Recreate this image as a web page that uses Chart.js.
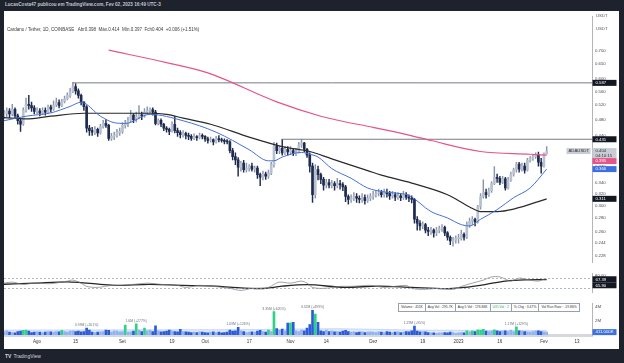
<!DOCTYPE html>
<html>
<head>
<meta charset="utf-8">
<title>ADAUSDT 1D</title>
<script src="https://cdn.jsdelivr.net/npm/chart.js@4.4.1/dist/chart.umd.min.js"></script>
<style>
  html, body { margin: 0; padding: 0; }
  body { width: 624px; height: 363px; background: #1e222d; position: relative; overflow: hidden;
         font-family: "Liberation Sans", Arial, sans-serif; }
  #panel { position: absolute; left: 4px; top: 11px; width: 615px; height: 338px; background: #fff; }
  .pane { position: absolute; left: 0; width: 615px; }
  #byline { position: absolute; left: 5px; top: 2px; font-size: 4.6px; font-weight: bold; color: #c3c6ce; }
  #legend { position: absolute; left: 3px; top: 15.5px; font-size: 4.5px; color: #3a3a3a; white-space: pre; }
  .usdt { position: absolute; left: 592px; font-size: 4.3px; color: #555; }
  #volinfo { position: absolute; left: 394px; top: 292px; display: flex; font-size: 3.4px; color: #333;
             border: 0.5px solid #9aa0ab; background: #fff; }
  #volinfo span { padding: 1.3px 2px; border-right: 0.5px solid #9aa0ab; white-space: nowrap; }
  #volinfo span:last-child { border-right: none; }
  #volinfo .up { color: #1aa866; }
  #brand { position: absolute; left: 5px; top: 353px; font-size: 5px; color: #d1d4dc; }
  #brand b { font-size: 5px; margin-right: 2px; }
</style>
</head>
<body>
<div id="byline">LucasCosta47 publicou em TradingView.com, Fev 02, 2023 16:49 UTC-3</div>
<div id="panel">
  <div class="pane" style="top:0;height:257px"><canvas id="priceChart"></canvas></div>
  <div class="pane" style="top:257px;height:30px"><canvas id="rsiChart"></canvas></div>
  <div class="pane" style="top:287px;height:51px"><canvas id="volChart"></canvas></div>
  <div id="legend"></div>
  <div class="usdt" style="top:2px">USDT</div>
  <div class="usdt" style="top:15px">USDT</div>
  <div id="volinfo">
    <span>Volume : 411K</span><span>Avg Vol : 295.7K</span><span>Avg 5 Vol : 176.86K</span>
    <span class="up">U/D Vol : 2</span><span>% Chg : 3.47%</span><span>Vol Run Rate : -19.86%</span>
  </div>
</div>
<div id="brand"><b>TV</b>TradingView</div>

<script>
// day index 0 = 20 Jul 2022, 197 = 02 Feb 2023 (daily candles, open = previous close)
const firstOpen = 0.492;

const closes = [
  // Jul 20-31
  0.497, 0.503, 0.495, 0.508, 0.490, 0.477, 0.468, 0.505, 0.522, 0.518, 0.512, 0.502,
  // Aug 1-18
  0.503, 0.497, 0.505, 0.500, 0.514, 0.508, 0.520, 0.527, 0.519, 0.530, 0.538, 0.548, 0.560, 0.575, 0.562, 0.548, 0.528, 0.515,
  // Aug 19-31
  0.458, 0.452, 0.448, 0.455, 0.446, 0.462, 0.470, 0.465, 0.433, 0.438, 0.440, 0.447, 0.450,
  // Sep
  0.465, 0.470, 0.478, 0.492, 0.480, 0.488, 0.493, 0.490, 0.500, 0.505, 0.507, 0.500, 0.470, 0.478, 0.468,
  0.458, 0.455, 0.450, 0.468, 0.452, 0.447, 0.442, 0.445, 0.440, 0.438, 0.433, 0.437, 0.435, 0.440, 0.438,
  // Oct
  0.432, 0.428, 0.430, 0.425, 0.432, 0.430, 0.428, 0.426, 0.425, 0.405, 0.392, 0.385, 0.370, 0.378, 0.365, 0.368,
  0.372, 0.366, 0.368, 0.355, 0.350, 0.356, 0.352, 0.358, 0.375, 0.415, 0.405, 0.410, 0.400, 0.408, 0.402,
  // Nov
  0.405, 0.398, 0.402, 0.418, 0.422, 0.408, 0.395, 0.372, 0.318, 0.365, 0.355, 0.346, 0.335, 0.340, 0.335,
  0.338, 0.334, 0.338, 0.336, 0.332, 0.315, 0.310, 0.312, 0.315, 0.312, 0.310, 0.313, 0.308, 0.312, 0.315,
  // Dec
  0.318, 0.320, 0.322, 0.318, 0.322, 0.320, 0.316, 0.318, 0.314, 0.316, 0.313, 0.318, 0.314, 0.312, 0.310, 0.278,
  0.272, 0.268, 0.270, 0.262, 0.260, 0.262, 0.258, 0.262, 0.264, 0.266, 0.258, 0.252, 0.247, 0.248, 0.250,
  // Jan 1 - Feb 2
  0.250, 0.256, 0.252, 0.270, 0.275, 0.278, 0.274, 0.298, 0.315, 0.322, 0.318, 0.325, 0.338, 0.350, 0.348, 0.340,
  0.347, 0.330, 0.345, 0.356, 0.365, 0.376, 0.366, 0.372, 0.364, 0.384, 0.388, 0.392, 0.396, 0.380, 0.372, 0.398, 0.404
];

const highs = [
  0.505, 0.512, 0.510, 0.522, 0.512, 0.495, 0.482, 0.512, 0.540, 0.548, 0.528, 0.518,
  0.512, 0.510, 0.512, 0.512, 0.520, 0.520, 0.532, 0.540, 0.535, 0.536, 0.546, 0.556, 0.570, 0.589, 0.585, 0.568, 0.552, 0.530,
  0.518, 0.465, 0.460, 0.462, 0.458, 0.468, 0.478, 0.480, 0.468, 0.445, 0.448, 0.455, 0.458,
  0.472, 0.478, 0.486, 0.505, 0.496, 0.500, 0.518, 0.500, 0.510, 0.515, 0.512, 0.512, 0.505, 0.482, 0.482,
  0.470, 0.462, 0.458, 0.474, 0.488, 0.458, 0.452, 0.452, 0.448, 0.446, 0.442, 0.444, 0.440, 0.446, 0.444,
  0.440, 0.436, 0.436, 0.432, 0.438, 0.440, 0.434, 0.432, 0.430, 0.428, 0.410, 0.400, 0.390, 0.382, 0.384, 0.378,
  0.375, 0.378, 0.372, 0.372, 0.358, 0.362, 0.360, 0.364, 0.380, 0.424, 0.422, 0.414, 0.431, 0.414, 0.414,
  0.414, 0.410, 0.410, 0.424, 0.431, 0.424, 0.410, 0.400, 0.378, 0.375, 0.372, 0.358, 0.350, 0.346, 0.346,
  0.344, 0.342, 0.348, 0.344, 0.340, 0.335, 0.318, 0.318, 0.322, 0.320, 0.316, 0.320, 0.318, 0.318, 0.320,
  0.324, 0.326, 0.328, 0.326, 0.328, 0.328, 0.324, 0.324, 0.322, 0.322, 0.320, 0.324, 0.322, 0.318, 0.316, 0.312,
  0.282, 0.276, 0.274, 0.272, 0.266, 0.266, 0.264, 0.266, 0.268, 0.270, 0.268, 0.260, 0.254, 0.252, 0.254,
  0.256, 0.262, 0.258, 0.274, 0.280, 0.282, 0.280, 0.300, 0.320, 0.345, 0.328, 0.330, 0.342, 0.371, 0.356, 0.352,
  0.352, 0.350, 0.350, 0.360, 0.368, 0.380, 0.380, 0.378, 0.378, 0.388, 0.392, 0.396, 0.400, 0.402, 0.388, 0.400, 0.414
];

const lows = [
  0.482, 0.488, 0.485, 0.490, 0.485, 0.468, 0.450, 0.465, 0.500, 0.508, 0.502, 0.495,
  0.495, 0.490, 0.494, 0.492, 0.498, 0.500, 0.505, 0.515, 0.512, 0.515, 0.526, 0.535, 0.542, 0.556, 0.552, 0.540, 0.520, 0.505,
  0.448, 0.440, 0.440, 0.442, 0.438, 0.443, 0.458, 0.460, 0.428, 0.428, 0.430, 0.436, 0.440,
  0.445, 0.458, 0.462, 0.474, 0.472, 0.474, 0.482, 0.480, 0.486, 0.495, 0.498, 0.492, 0.466, 0.466, 0.462,
  0.452, 0.448, 0.442, 0.448, 0.446, 0.438, 0.434, 0.436, 0.432, 0.430, 0.428, 0.430, 0.428, 0.432, 0.432,
  0.426, 0.422, 0.424, 0.418, 0.422, 0.425, 0.424, 0.420, 0.420, 0.400, 0.385, 0.375, 0.352, 0.362, 0.360, 0.360,
  0.362, 0.362, 0.360, 0.348, 0.334, 0.345, 0.346, 0.348, 0.355, 0.370, 0.398, 0.398, 0.395, 0.396, 0.395,
  0.396, 0.394, 0.394, 0.400, 0.412, 0.402, 0.390, 0.360, 0.305, 0.312, 0.345, 0.338, 0.326, 0.330, 0.330,
  0.330, 0.326, 0.330, 0.328, 0.325, 0.306, 0.302, 0.305, 0.308, 0.305, 0.304, 0.305, 0.302, 0.305, 0.308,
  0.310, 0.314, 0.316, 0.314, 0.314, 0.314, 0.310, 0.312, 0.308, 0.310, 0.308, 0.310, 0.310, 0.306, 0.304, 0.272,
  0.262, 0.262, 0.264, 0.258, 0.254, 0.256, 0.252, 0.254, 0.258, 0.260, 0.254, 0.248, 0.242, 0.240, 0.244,
  0.244, 0.248, 0.248, 0.250, 0.266, 0.270, 0.268, 0.272, 0.294, 0.312, 0.312, 0.315, 0.322, 0.336, 0.340, 0.336,
  0.338, 0.326, 0.328, 0.342, 0.352, 0.360, 0.360, 0.362, 0.358, 0.362, 0.380, 0.384, 0.388, 0.372, 0.358, 0.370, 0.397
];

// volume in millions of ADA
const volumes = [
  0.45, 0.6, 0.4, 0.35, 0.3, 0.5, 0.55, 0.65, 0.7, 0.55, 0.35, 0.4,
  0.45, 0.4, 0.35, 0.4, 0.5, 0.45, 0.4, 0.5, 0.45, 0.65, 0.5, 0.4, 0.55, 0.6, 0.5, 0.55, 0.45, 0.5,
  0.99, 0.7, 0.4, 0.35, 0.4, 0.45, 0.5, 0.7, 0.65, 0.4, 0.6, 0.55, 0.45,
  0.5, 1.4, 0.4, 0.45, 0.55, 1.6, 0.7, 0.5, 1.0, 0.6, 0.7, 0.5, 1.3, 0.6, 0.45,
  0.5, 0.55, 0.7, 0.6, 0.5, 0.45, 0.8, 0.5, 0.45, 0.4, 0.35, 0.4, 0.35, 0.45, 0.4,
  0.35, 0.3, 0.4, 0.45, 0.35, 0.4, 0.3, 0.35, 0.4, 0.7, 0.55, 0.6, 1.09, 0.6, 0.5, 0.35,
  0.4, 0.45, 0.4, 0.55, 0.65, 0.5, 0.4, 0.7, 0.5, 3.35, 0.9, 0.7, 0.85, 0.6, 1.7,
  1.75, 1.8, 0.6, 0.5, 0.7, 0.6, 1.0, 1.5, 3.52, 3.0, 1.8, 0.6, 0.5, 0.7, 0.5,
  0.6, 0.45, 0.5, 0.4, 0.55, 0.65, 0.5, 0.4, 0.45, 0.35, 0.4, 0.45, 0.35, 0.4, 0.45,
  0.4, 0.35, 0.45, 0.4, 0.35, 0.5, 0.4, 0.35, 0.4, 0.45, 0.35, 0.4, 0.5, 0.45, 0.6, 1.29,
  0.55, 0.45, 0.5, 0.45, 0.35, 0.3, 0.3, 0.25, 0.3, 0.3, 0.35, 0.3, 0.4, 0.35, 0.25,
  0.3, 0.35, 0.3, 0.6, 0.45, 0.55, 0.5, 0.75, 0.7, 0.8, 0.55, 0.5, 0.6, 0.75, 0.6, 0.5,
  0.55, 0.6, 0.5, 0.7, 0.5, 1.17, 0.6, 0.55, 0.5, 0.45, 0.4, 0.5, 0.55, 0.6, 0.5, 0.45, 0.411
];

// light volume-average band behind the bars (day index, millions)
const volAvgDays   = [0, 60, 100, 120, 150, 197];
const volAvgValues = [0.7, 0.75, 0.8, 0.9, 0.7, 0.65];

// moving averages (day index, price)
const ma200Days   = [38, 59, 74, 99, 115, 122, 134, 147, 155, 173, 191, 197];
const ma200Values = [0.702, 0.656, 0.620, 0.529, 0.489, 0.477, 0.460, 0.441, 0.428, 0.403, 0.397, 0.395];
const ma20Days    = [0, 8, 17, 24, 28, 35, 40, 44, 53, 65, 77, 89, 96, 98, 101, 108, 111, 114, 119, 126, 132, 138, 144, 147, 155, 161, 166, 169, 173, 179, 185, 191, 197];
const ma20Values  = [0.477, 0.489, 0.498, 0.516, 0.528, 0.489, 0.472, 0.470, 0.494, 0.477, 0.448, 0.407, 0.383, 0.383, 0.391, 0.401, 0.397, 0.391, 0.367, 0.348, 0.330, 0.323, 0.320, 0.317, 0.290, 0.280, 0.270, 0.268, 0.278, 0.293, 0.313, 0.330, 0.366];
const ma50Days    = [0, 8, 17, 29, 41, 53, 59, 65, 75, 89, 101, 111, 119, 132, 137, 148, 161, 169, 173, 179, 185, 197];
const ma50Values  = [0.485, 0.482, 0.489, 0.497, 0.497, 0.497, 0.494, 0.484, 0.468, 0.436, 0.414, 0.403, 0.387, 0.363, 0.354, 0.339, 0.318, 0.2975, 0.290, 0.290, 0.294, 0.311];

// horizontal levels drawn on the chart
const levelPrices = [0.587, 0.431];
const levelFromDays = [25, 101];

// RSI pane
const rsiDays   = [0, 3, 7, 11, 17, 23, 25, 28, 30, 34, 39, 42, 47, 52, 57, 63, 66, 71, 76, 82, 86, 90, 96, 98, 100, 104, 108, 110, 112, 116, 122, 126, 133, 138, 146, 148, 152, 158, 163, 166, 170, 174, 177, 180, 182, 184, 187, 191, 194, 196, 197];
const rsiValues = [52, 56, 47, 52, 50, 60, 64, 52, 39, 35, 43, 43, 47, 52, 47, 43, 35, 43, 39, 31, 23, 31, 35, 47, 56, 52, 60, 52, 35, 31, 39, 39, 43, 35, 43, 31, 27, 31, 27, 39, 52, 64, 77, 77, 68, 60, 72, 64, 60, 68, 67.39];
const rsiMaDays   = [0, 11, 23, 27, 35, 41, 53, 65, 77, 83, 93, 101, 110, 124, 136, 148, 160, 167, 175, 182, 189, 197];
const rsiMaValues = [47.5, 52, 57, 55, 47, 43, 47, 43, 40, 35, 30, 40, 46, 35, 40, 35, 30, 35, 47, 60, 65, 65.9];
const rsiBands = [70, 30];

// axis ticks
const priceTicks = [0.7, 0.65, 0.6, 0.56, 0.52, 0.48, 0.44, 0.4, 0.37, 0.34, 0.32, 0.30, 0.28, 0.26, 0.244, 0.228];
const rsiTicks = [80, 40];
const volTicks = [4, 2];
const dateTickDays = [12, 26, 43, 61, 73, 89, 104, 117, 134, 152, 165, 180, 196, 208];
const dateTickLabels = ['Ago', '15', 'Set', '19', 'Out', '17', 'Nov', '14', 'Dez', '19', '2023', '16', 'Fev', '13'];

// volume spike notes
const noteDays  = [30, 48, 85, 98, 112, 149, 186];
const noteTexts = ['0.99M (+201%)', '1.6M (+277%)', '1.09M (+126%)', '3.35M (+620%)', '3.52M (+499%)', '1.29M (+95%)', '1.17M (+129%)'];

/* ---------- derived ---------- */
const opens = closes.map((c, i) => i === 0 ? firstOpen : closes[i - 1]);
const last = closes.length - 1;
const X_MIN = 0, X_MAX = 213.45, AXIS_W = 27;
const FONT = '"Liberation Sans", Arial, sans-serif';

Chart.defaults.font.family = FONT;

const UP = '#b9c1d1', DOWN = '#1f2c50', UP_WICK = '#8c96ab';
const isUp = i => closes[i] >= opens[i];

function pts(days, vals) { return days.map((d, k) => ({ x: d, y: vals[k] })); }
function fixWidth(scale) { scale.width = AXIS_W; }

document.getElementById('legend').textContent =
  'Cardano / Tether, 1D, COINBASE   Abr' + opens[last].toFixed(3) + '  Máx.' + highs[last].toFixed(3) +
  '  Mín.' + lows[last].toFixed(3) + '  Fch' + closes[last].toFixed(3) + '  +' +
  (closes[last] - opens[last]).toFixed(3) + ' (+1.51%)';

// price tags on the right axis, pushed apart when they overlap
const tagPlugin = {
  id: 'tags',
  afterDraw(chart, args, opts) {
    const ys = chart.scales.y, ctx = chart.ctx, x0 = chart.chartArea.right + 0.5;
    const items = (opts.items || []).map(t => Object.assign({ py: ys.getPixelForValue(t.value) }, t))
      .sort((a, b) => a.py - b.py);
    let bottom = -Infinity;
    ctx.save();
    ctx.textBaseline = 'middle';
    items.forEach(t => {
      const h = t.sub ? 10 : 6;
      let top = t.py - 3;
      if (top < bottom) top = bottom;
      bottom = top + h;
      ctx.fillStyle = t.bg;
      ctx.fillRect(x0, top, 24, h);
      ctx.fillStyle = t.fg;
      ctx.font = '4.3px ' + FONT;
      ctx.fillText(t.text, x0 + 3, top + 3.1);
      if (t.sub) ctx.fillText(t.sub, x0 + 3, top + 7.6);
      if (t.left) {
        ctx.fillStyle = t.bg;
        ctx.fillRect(x0 - 26, top, 24, 6);
        ctx.fillStyle = t.fg;
        ctx.fillText(t.left, x0 - 24, top + 3.1);
      }
    });
    ctx.restore();
  }
};

const notePlugin = {
  id: 'notes',
  afterDatasetsDraw(chart, args, opts) {
    if (!opts.days) return;
    const ctx = chart.ctx, xs = chart.scales.x, ys = chart.scales.y;
    ctx.save();
    ctx.font = '3.4px ' + FONT;
    ctx.fillStyle = '#6b6f78';
    ctx.textAlign = 'center';
    opts.days.forEach((d, k) => {
      ctx.fillText(opts.texts[k], xs.getPixelForValue(d), ys.getPixelForValue(volumes[d]) - 2);
    });
    ctx.restore();
  }
};

const base = {
  responsive: true,
  maintainAspectRatio: false,
  animation: false,
  events: [],
  layout: { padding: 0 },
  plugins: { legend: { display: false }, tooltip: { enabled: false } }
};
const tickFont = { size: 4.3, family: FONT };

/* ---------- price pane ---------- */
const days = closes.map((_, i) => i);
new Chart(document.getElementById('priceChart'), {
  type: 'bar',
  plugins: [tagPlugin],
  data: {
    datasets: [
      { type: 'line', data: pts(ma200Days, ma200Values), borderColor: '#e4558a', borderWidth: 1.2, pointRadius: 0, cubicInterpolationMode: 'monotone', order: 1 },
      { type: 'line', data: pts(ma20Days, ma20Values), borderColor: '#4670d6', borderWidth: 1, pointRadius: 0, cubicInterpolationMode: 'monotone', order: 1 },
      { type: 'line', data: pts(ma50Days, ma50Values), borderColor: '#2a2a2a', borderWidth: 1.2, pointRadius: 0, cubicInterpolationMode: 'monotone', order: 1 },
      ...levelPrices.map((p, k) => ({
        type: 'line', data: [{ x: levelFromDays[k], y: p }, { x: X_MAX, y: p }],
        borderColor: '#787b86', borderWidth: 1, pointRadius: 0, order: 1
      })),
      { data: days.map(i => ({ x: i, y: [lows[i], highs[i]] })), backgroundColor: days.map(i => isUp(i) ? UP_WICK : DOWN),
        barThickness: 0.8, grouped: false, order: 3 },
      { data: days.map(i => ({ x: i, y: [opens[i], closes[i]] })), backgroundColor: days.map(i => isUp(i) ? UP : DOWN),
        barThickness: 2, minBarLength: 1, grouped: false, order: 2 }
    ]
  },
  options: Object.assign({}, base, {
    scales: {
      x: { type: 'linear', min: X_MIN, max: X_MAX, offset: false, display: false, grid: { offset: false } },
      y: {
        type: 'logarithmic', position: 'right', min: 0.2195, max: 0.844,
        afterFit: fixWidth,
        afterBuildTicks: s => { s.ticks = priceTicks.map(v => ({ value: v })); },
        grid: { display: false, drawTicks: false },
        border: { display: true, color: '#b2b5be', width: 1 },
        ticks: { autoSkip: false, padding: 3, color: '#4a4a4a', font: tickFont, callback: v => Number(v).toFixed(3) }
      }
    },
    plugins: Object.assign({}, base.plugins, {
      tags: {
        items: [
          { value: levelPrices[0], text: levelPrices[0].toFixed(3), bg: '#131722', fg: '#fff' },
          { value: levelPrices[1], text: levelPrices[1].toFixed(3), bg: '#131722', fg: '#fff' },
          { value: closes[last], text: closes[last].toFixed(3), sub: '04:10:15', left: 'ADAUSDT', bg: '#c9ccd3', fg: '#333' },
          { value: ma200Values[ma200Values.length - 1], text: ma200Values[ma200Values.length - 1].toFixed(3), bg: '#e4558a', fg: '#fff' },
          { value: ma20Values[ma20Values.length - 1], text: ma20Values[ma20Values.length - 1].toFixed(3), bg: '#3e6fe0', fg: '#fff' },
          { value: ma50Values[ma50Values.length - 1], text: ma50Values[ma50Values.length - 1].toFixed(3), bg: '#131722', fg: '#fff' }
        ]
      }
    })
  })
});

/* ---------- RSI pane ---------- */
new Chart(document.getElementById('rsiChart'), {
  type: 'line',
  plugins: [tagPlugin],
  data: {
    datasets: [
      ...rsiBands.map(b => ({ data: [{ x: X_MIN, y: b }, { x: X_MAX, y: b }], borderColor: '#9598a1', borderWidth: 0.7, borderDash: [2, 2], pointRadius: 0 })),
      { data: pts(rsiDays, rsiValues), borderColor: '#7a7d85', borderWidth: 0.7, pointRadius: 0, tension: 0.3 },
      { data: pts(rsiMaDays, rsiMaValues), borderColor: '#262626', borderWidth: 1.3, pointRadius: 0, cubicInterpolationMode: 'monotone' }
    ]
  },
  options: Object.assign({}, base, {
    scales: {
      x: { type: 'linear', min: X_MIN, max: X_MAX, display: false },
      y: {
        position: 'right', min: 15, max: 90, afterFit: fixWidth,
        afterBuildTicks: s => { s.ticks = rsiTicks.map(v => ({ value: v })); },
        grid: { display: false, drawTicks: false },
        border: { display: true, color: '#b2b5be', width: 1 },
        ticks: { autoSkip: false, padding: 3, color: '#4a4a4a', font: tickFont, callback: v => Number(v).toFixed(2) }
      }
    },
    plugins: Object.assign({}, base.plugins, {
      tags: {
        items: [
          { value: rsiValues[rsiValues.length - 1], text: rsiValues[rsiValues.length - 1].toFixed(2), bg: '#131722', fg: '#fff' },
          { value: rsiMaValues[rsiMaValues.length - 1], text: rsiMaValues[rsiMaValues.length - 1].toFixed(2), bg: '#131722', fg: '#fff' }
        ]
      }
    })
  })
});

/* ---------- volume pane ---------- */
function volColor(i) {
  if (!isUp(i)) return '#2c5bd8';
  const from = Math.max(0, i - 20);
  const prev = volumes.slice(from, i);
  const avg = prev.length ? prev.reduce((a, b) => a + b, 0) / prev.length : volumes[i];
  return volumes[i] > 1.4 * avg ? '#2fd18a' : '#8fb2f0';
}

new Chart(document.getElementById('volChart'), {
  type: 'bar',
  plugins: [tagPlugin, notePlugin],
  data: {
    datasets: [
      { type: 'line', data: pts(volAvgDays, volAvgValues), borderColor: '#bcd3f7', borderWidth: 0.8, backgroundColor: '#dde8fb',
        fill: 'origin', pointRadius: 0, cubicInterpolationMode: 'monotone', order: 2 },
      { data: days.map(i => ({ x: i, y: volumes[i] })), backgroundColor: days.map(volColor), barThickness: 2, grouped: false, order: 1 }
    ]
  },
  options: Object.assign({}, base, {
    scales: {
      x: {
        type: 'linear', min: X_MIN, max: X_MAX, offset: false,
        afterFit: s => { s.height = 14; },
        afterBuildTicks: s => { s.ticks = dateTickDays.map(v => ({ value: v })); },
        grid: { display: false, drawTicks: false, offset: false },
        border: { display: true, color: '#d6d8de', width: 3 },
        ticks: { autoSkip: false, maxRotation: 0, padding: 4, color: '#333', font: { size: 4.5, family: FONT },
                 callback: (v, idx) => dateTickLabels[idx] }
      },
      y: {
        position: 'right', min: 0, max: 4.485, afterFit: fixWidth,
        afterBuildTicks: s => { s.ticks = volTicks.map(v => ({ value: v })); },
        grid: { display: false, drawTicks: false },
        border: { display: true, color: '#b2b5be', width: 1 },
        ticks: { autoSkip: false, padding: 3, color: '#4a4a4a', font: tickFont, callback: v => v + 'M' }
      }
    },
    plugins: Object.assign({}, base.plugins, {
      notes: { days: noteDays, texts: noteTexts },
      tags: {
        items: [
          { value: volumes[last], text: (volumes[last] * 1000).toFixed(3) + 'K', bg: '#3e6fe0', fg: '#fff' }
        ]
      }
    })
  })
});
</script>
</body>
</html>
